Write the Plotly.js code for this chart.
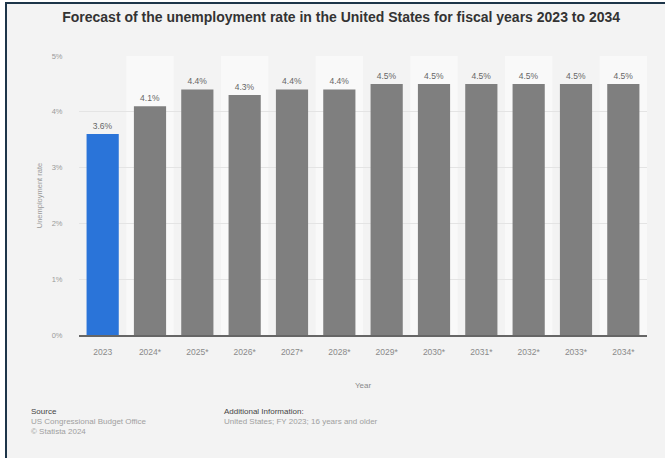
<!DOCTYPE html>
<html>
<head>
<meta charset="utf-8">
<script src="https://cdn.plot.ly/plotly-3.0.1.min.js"></script>
<style>
html,body{margin:0;padding:0;background:#ffffff;overflow:hidden;}
#frame{position:absolute;left:5px;top:2px;width:680px;height:470px;background:#f3f3f3;border-left:2px solid #1d3549;border-top:2px solid #1d3549;}
#chart{position:absolute;left:0;top:0;width:665px;height:458px;}
</style>
</head>
<body>
<div id="frame"></div>
<div id="chart"></div>
<script>
const years = ["2023","2024*","2025*","2026*","2027*","2028*","2029*","2030*","2031*","2032*","2033*","2034*"];
const rates = [3.6, 4.1, 4.4, 4.3, 4.4, 4.4, 4.5, 4.5, 4.5, 4.5, 4.5, 4.5];
const barColors = ["#2a74d9","#7f7f7f","#7f7f7f","#7f7f7f","#7f7f7f","#7f7f7f","#7f7f7f","#7f7f7f","#7f7f7f","#7f7f7f","#7f7f7f","#7f7f7f"];
const yTicks = [0,1,2,3,4,5];
const yTickText = ["0%","1%","2%","3%","4%","5%"];

const font = "Liberation Sans, Arial, sans-serif";

const shapes = [];
for (let i = 1; i < years.length; i += 2) {
  shapes.push({type:"rect", xref:"x", yref:"y", x0:i-0.5, x1:i+0.5, y0:0, y1:5,
    fillcolor:"#f9f9f9", line:{width:0}, layer:"below"});
}

const trace = {
  type:"bar", x: years, y: rates,
  marker:{color: barColors, line:{width:0}},
  width: 0.68,
  text: rates.map(v => v.toFixed(1) + "%"),
  textposition:"outside",
  textfont:{family:font, size:8.5, color:"#666666"},
  cliponaxis:false,
  hoverinfo:"none"
};

const layout = {
  width:665, height:458,
  paper_bgcolor:"rgba(0,0,0,0)", plot_bgcolor:"rgba(0,0,0,0)",
  margin:{l:79, r:18, t:56, b:123},
  showlegend:false,
  bargap:0.32,
  title:{text:"<b>Forecast of the unemployment rate in the United States for fiscal years 2023 to 2034</b>",
    font:{family:font, size:14, color:"#333333"},
    x:0.513, xref:"container", xanchor:"center", y:1-17/458, yref:"container", yanchor:"middle"},
  xaxis:{type:"category", range:[-0.5, 11.5], fixedrange:true,
    showline:true, linecolor:"#666666", linewidth:1.5,
    ticks:"outside", ticklen:8, tickcolor:"rgba(0,0,0,0)",
    tickfont:{family:font, size:8.5, color:"#8a8a8a"},
    title:{text:"Year", font:{family:font, size:8, color:"#8a8a8a"}, standoff:26},
    showgrid:false, zeroline:false},
  yaxis:{range:[0,5], tickvals:yTicks, ticktext:yTickText, fixedrange:true,
    ticks:"outside", ticklen:14, tickcolor:"rgba(0,0,0,0)",
    tickfont:{family:font, size:7.5, color:"#9a9a9a"},
    showgrid:true, gridcolor:"#e4e4e4", gridwidth:1, zeroline:false, showline:false,
    title:{text:"Unemployment rate", font:{family:font, size:7.5, color:"#9a9a9a"}, standoff:8}},
  shapes: shapes,
  annotations:[
    {text:"Source", x:29, y:411},
    {text:"US Congressional Budget Office", x:29, y:421, gray:true},
    {text:"© Statista 2024", x:29, y:431, gray:true},
    {text:"Additional Information:", x:222, y:411},
    {text:"United States; FY 2023; 16 years and older", x:222, y:421, gray:true}
  ].map(a => ({
    text:a.text, xref:"paper", yref:"paper",
    x:(a.x-79)/(665-79-18), y:(458-123-a.y)/(458-56-123),
    xanchor:"left", yanchor:"middle", showarrow:false,
    font:{family:font, size:8, color: a.gray ? "#a0a0a0" : "#444444"}
  }))
};

Plotly.newPlot("chart", [trace], layout, {staticPlot:true, displayModeBar:false});
</script>
</body>
</html>
